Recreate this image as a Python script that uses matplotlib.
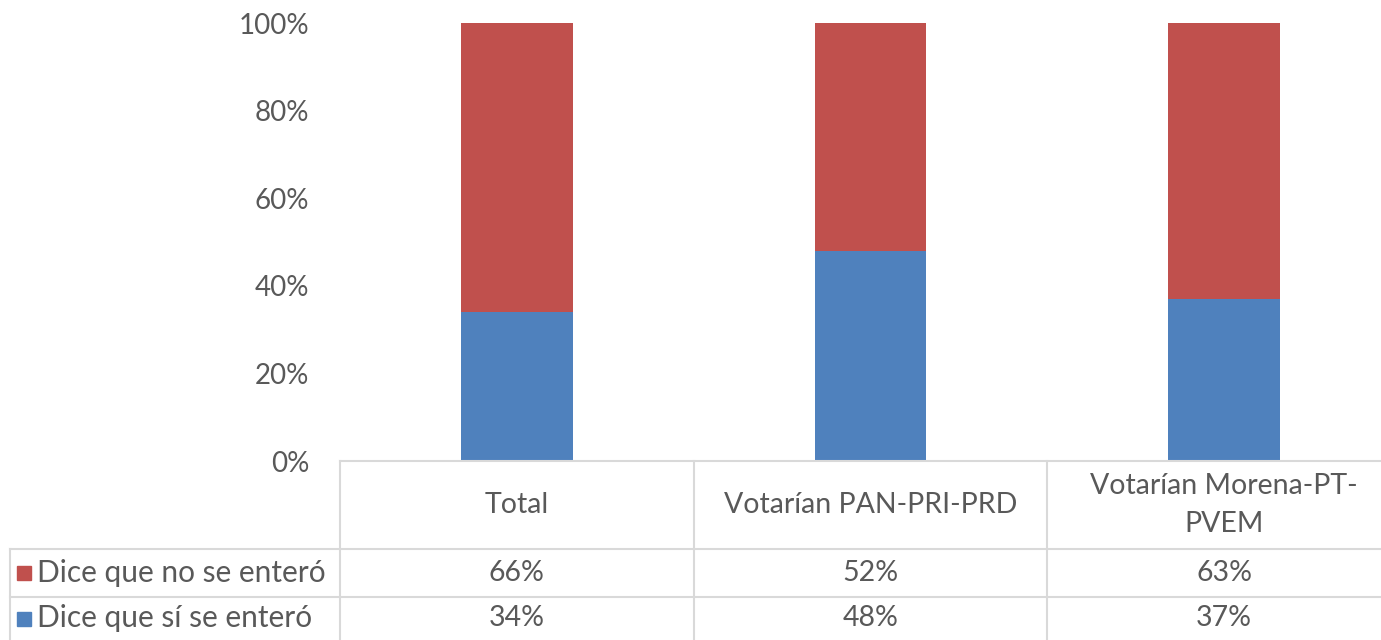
import matplotlib
matplotlib.use("Agg")
import matplotlib.pyplot as plt
from matplotlib.lines import Line2D
from matplotlib.patches import Rectangle
import numpy as np

categories = ["Total", "Votarían PAN-PRI-PRD", "Votarían Morena-PT-\nPVEM"]
si_values = [34, 48, 37]
no_values = [66, 52, 63]
series_names = ["Dice que no se enteró", "Dice que sí se enteró"]
ytick_labels = ["0%", "20%", "40%", "60%", "80%", "100%"]

BLUE = "#4F81BD"
RED = "#C0504D"
TXT = "#595959"
GRID = "#D9D9D9"

plt.rcParams['font.family'] = ['Lato', 'DejaVu Sans']

W, H = 1381, 640
fig = plt.figure(figsize=(W / 100, H / 100), dpi=100)

def fx(px):
    return px / W

def fy(py):
    return 1 - py / H

ax_left, ax_right = 340, 1401
ax_top, ax_bot = 23, 461
ax = fig.add_axes([fx(ax_left), fy(ax_bot), fx(ax_right - ax_left), (ax_bot - ax_top) / H])

x = np.arange(len(categories))
si = np.array(si_values) / 100
no = np.array(no_values) / 100
ax.bar(x, si, width=0.315, color=BLUE, zorder=2)
ax.bar(x, no, bottom=si, width=0.315, color=RED, zorder=2)
ax.set_xlim(-0.5, len(categories) - 0.5)
ax.set_ylim(0, 1)
ax.set_yticks(np.linspace(0, 1, 6))
ax.set_yticklabels(ytick_labels)
ax.tick_params(axis='y', length=0, pad=22, labelsize=20, labelcolor=TXT)
ax.set_xticks([])
for s in ax.spines.values():
    s.set_visible(False)

# Data table
def hline(y, x0, x1):
    fig.add_artist(Line2D([fx(x0), fx(x1)], [fy(y), fy(y)], color=GRID, lw=1.5))

def vline(xp, y0, y1):
    fig.add_artist(Line2D([fx(xp), fx(xp)], [fy(y0), fy(y1)], color=GRID, lw=1.5))

col_w = (ax_right - ax_left) / len(categories)
row_tops = [461, 549, 597, 640]
hline(461, ax_left, W + 30)
hline(549, 10, W + 30)
hline(597, 10, W + 30)
vline(10, 549, 645)
for i in range(len(categories) + 1):
    vline(ax_left + i * col_w, 461, 645)

for i, c in enumerate(categories):
    cx = ax_left + (i + 0.5) * col_w
    fig.text(fx(cx), fy(505), c, ha='center', va='center', fontsize=20.5,
             color=TXT, linespacing=1.6)

rows = [(series_names[0], no_values, RED), (series_names[1], si_values, BLUE)]
for r, (name, vals, col) in enumerate(rows):
    cy = (row_tops[r + 1] + row_tops[r + 2]) / 2
    fig.add_artist(Rectangle((fx(17), fy(cy + 7)), fx(14), 14 / H, color=col))
    fig.text(fx(37), fy(cy), name, ha='left', va='center', fontsize=21.5, color=TXT)
    for i, v in enumerate(vals):
        cx = ax_left + (i + 0.5) * col_w
        fig.text(fx(cx), fy(cy), f"{v}%", ha='center', va='center', fontsize=20.5, color=TXT)

fig.savefig("out.png", dpi=100)
